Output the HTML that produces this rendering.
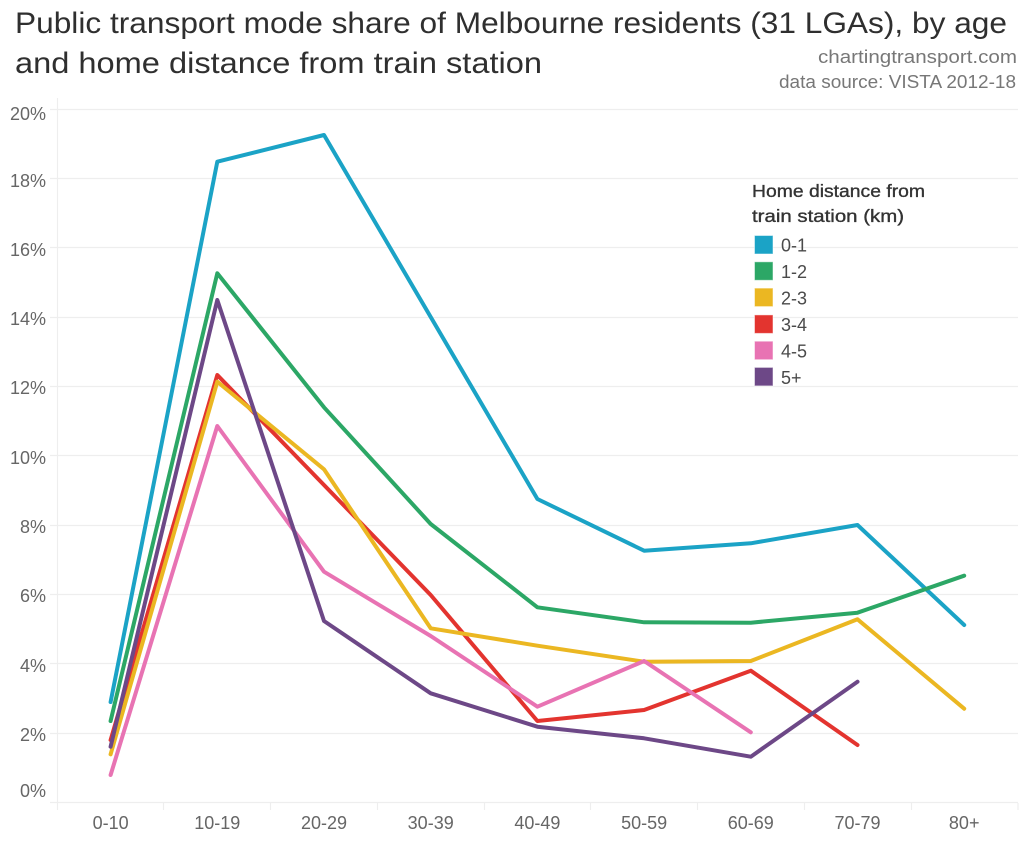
<!DOCTYPE html>
<html>
<head>
<meta charset="utf-8">
<style>
html,body{margin:0;padding:0;background:#fff;}
svg{display:block;}
text{font-family:"Liberation Sans",Arial,sans-serif;}
</style>
</head>
<body>
<svg width="1024" height="847" viewBox="0 0 1024 847" xmlns="http://www.w3.org/2000/svg">
<rect width="1024" height="847" fill="#fff"/>
<!-- Title -->
<text x="15" y="33" font-size="29.5" fill="#2f2f2f" textLength="992" lengthAdjust="spacingAndGlyphs">Public transport mode share of Melbourne residents (31 LGAs), by age</text>
<text x="15" y="73" font-size="29.5" fill="#2f2f2f" textLength="527" lengthAdjust="spacingAndGlyphs">and home distance from train station</text>
<text x="818" y="63" font-size="18" fill="#777" textLength="199" lengthAdjust="spacingAndGlyphs">chartingtransport.com</text>
<text x="779" y="88" font-size="18" fill="#777" textLength="237" lengthAdjust="spacingAndGlyphs">data source: VISTA 2012-18</text>

<!-- gridlines -->
<g stroke="#eeeeee" stroke-width="1.2" fill="none">
<line x1="50" y1="109.5" x2="1018" y2="109.5"/>
<line x1="50" y1="178.5" x2="1018" y2="178.5"/>
<line x1="50" y1="247.5" x2="1018" y2="247.5"/>
<line x1="50" y1="317.5" x2="1018" y2="317.5"/>
<line x1="50" y1="386.5" x2="1018" y2="386.5"/>
<line x1="50" y1="455.5" x2="1018" y2="455.5"/>
<line x1="50" y1="525.5" x2="1018" y2="525.5"/>
<line x1="50" y1="594.5" x2="1018" y2="594.5"/>
<line x1="50" y1="663.5" x2="1018" y2="663.5"/>
<line x1="50" y1="733.5" x2="1018" y2="733.5"/>
<line x1="50" y1="802.5" x2="1018" y2="802.5"/>
<line x1="57.5" y1="98" x2="57.5" y2="810"/>
<line x1="163.5" y1="803" x2="163.5" y2="810"/>
<line x1="270.5" y1="803" x2="270.5" y2="810"/>
<line x1="377.5" y1="803" x2="377.5" y2="810"/>
<line x1="484.5" y1="803" x2="484.5" y2="810"/>
<line x1="590.5" y1="803" x2="590.5" y2="810"/>
<line x1="697.5" y1="803" x2="697.5" y2="810"/>
<line x1="804.5" y1="803" x2="804.5" y2="810"/>
<line x1="911.5" y1="803" x2="911.5" y2="810"/>
<line x1="1018" y1="803" x2="1018" y2="810"/>
</g>

<!-- y labels -->
<g font-size="18" fill="#666" text-anchor="end">
<text x="46" y="120">20%</text>
<text x="46" y="187">18%</text>
<text x="46" y="256">16%</text>
<text x="46" y="325">14%</text>
<text x="46" y="394">12%</text>
<text x="46" y="464">10%</text>
<text x="46" y="533">8%</text>
<text x="46" y="602">6%</text>
<text x="46" y="672">4%</text>
<text x="46" y="741">2%</text>
<text x="46" y="797">0%</text>
</g>

<!-- x labels -->
<g font-size="18" fill="#666" text-anchor="middle">
<text x="110.6" y="829">0-10</text>
<text x="217.3" y="829">10-19</text>
<text x="324" y="829">20-29</text>
<text x="430.7" y="829">30-39</text>
<text x="537.4" y="829">40-49</text>
<text x="644.1" y="829">50-59</text>
<text x="750.8" y="829">60-69</text>
<text x="857.5" y="829">70-79</text>
<text x="964.2" y="829">80+</text>
</g>

<!-- series -->
<g fill="none" stroke-width="4" stroke-linejoin="round" stroke-linecap="round">
<polyline stroke="#1ba3c6" points="110.6,702 217.3,161.7 324,135 430.7,317 537.4,499 644.1,550.7 750.8,543.3 857.5,525 964.2,625"/>
<polyline stroke="#2ca766" points="110.6,721 217.3,273.3 324,407.3 430.7,524 537.4,607.3 644.1,622.3 750.8,622.7 857.5,612.7 964.2,575.7"/>
<polyline stroke="#e3342f" points="110.6,740 217.3,375 324,485 430.7,595 537.4,721 644.1,710 750.8,670.7 857.5,745"/>
<polyline stroke="#ebb722" points="110.6,754.3 217.3,381.7 324,469.3 430.7,628.3 537.4,645.7 644.1,661.7 750.8,661 857.5,619.3 964.2,708.7"/>
<polyline stroke="#e873b3" points="110.6,775 217.3,426 324,571.7 430.7,636 537.4,706.7 644.1,661 750.8,732.3"/>
<polyline stroke="#6d4887" points="110.6,746.7 217.3,300 324,621 430.7,693.3 537.4,726.7 644.1,738.3 750.8,756.7 857.5,681.7"/>
</g>

<!-- legend -->
<text x="752" y="197" font-size="17.5" fill="#333" stroke="#333" stroke-width="0.35" textLength="173" lengthAdjust="spacingAndGlyphs">Home distance from</text>
<text x="752" y="222" font-size="17.5" fill="#333" stroke="#333" stroke-width="0.35" textLength="152" lengthAdjust="spacingAndGlyphs">train station (km)</text>
<g stroke="#ffffff" stroke-opacity="0.5" stroke-width="1">
<rect x="754.5" y="235.5" width="18.5" height="18.5" fill="#1ba3c6"/>
<rect x="754.5" y="261.8" width="18.5" height="18.5" fill="#2ca766"/>
<rect x="754.5" y="288.1" width="18.5" height="18.5" fill="#ebb722"/>
<rect x="754.5" y="314.9" width="18.5" height="18.5" fill="#e3342f"/>
<rect x="754.5" y="341.2" width="18.5" height="18.5" fill="#e873b3"/>
<rect x="754.5" y="367.4" width="18.5" height="18.5" fill="#6d4887"/>
</g>
<g font-size="18" fill="#4a4a4a">
<text x="781" y="251.5">0-1</text>
<text x="781" y="278">1-2</text>
<text x="781" y="304.5">2-3</text>
<text x="781" y="331">3-4</text>
<text x="781" y="357.5">4-5</text>
<text x="781" y="384">5+</text>
</g>
</svg>
</body>
</html>
